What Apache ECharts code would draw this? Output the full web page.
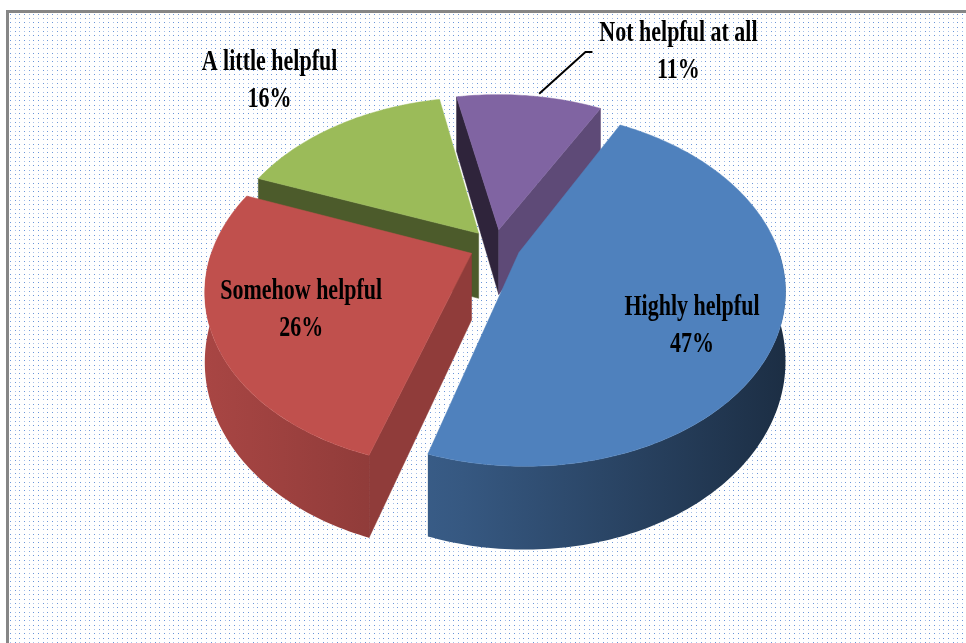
<!DOCTYPE html>
<html><head><meta charset="utf-8">
<script src="https://cdn.jsdelivr.net/npm/echarts@6/dist/echarts.min.js"></script>
<style>
html,body{margin:0;padding:0;background:#fff;overflow:hidden;}
#frame{position:absolute;left:6px;top:10px;width:960px;height:633px;border-left:3px solid #868686;border-top:3px solid #868686;box-sizing:border-box;}
#chart{position:absolute;left:0;top:0;width:966px;height:643px;}
</style></head><body>
<div id="frame"></div><div id="chart"></div>
<script>
// ---- data ----
const categories = ['Highly helpful', 'Somehow helpful', 'A little helpful', 'Not helpful at all'];
const percents = [47, 26, 16, 11];

// ---- styles / layout ----
const sliceColors = ['#4F81BD', '#C0504D', '#9BBB59', '#8064A2'];
const labelPlace = [
  { r: 0.66, dx: 5, dy: 27 },
  { r: 0.64, dx: -10, dy: 6 },
  { r: 1.0, dx: -69, dy: -44 },
  { r: 1.0, dx: 149, dy: -44, leader: true }
];
// projection: centre, radii, perspective factor, depth, explosion, first-slice angle
const CX = 495, CY = 246, RX = 258, R0 = 168, K = 0.2, D0 = 66, E = 0.1, START = 28.3;

// dotted background pattern
(function () {
  const c = document.createElement('canvas');
  c.width = 14; c.height = 13;
  const g = c.getContext('2d');
  const xs = [1, 6, 10], ys = [1, 5, 9];
  for (let a = 0; a < 3; a++) for (let b = 0; b < 3; b++) {
    g.fillStyle = (a + b) % 2 ? 'rgba(80,130,210,0.5)' : 'rgba(80,130,210,0.85)';
    g.fillRect(xs[a], ys[b], 1, 1);
  }
  const f = document.getElementById('frame');
  f.style.backgroundImage = 'url(' + c.toDataURL() + ')';
  f.style.backgroundRepeat = 'repeat';
})();

function shade(hex, k) {
  const n = parseInt(hex.slice(1), 16);
  const r = Math.round(((n >> 16) & 255) * k), g = Math.round(((n >> 8) & 255) * k), b = Math.round((n & 255) * k);
  return 'rgb(' + r + ',' + g + ',' + b + ')';
}
function proj(u, v, h) {
  const s = 1 / (1 - K * v);
  return [CX + RX * u * s, CY + (R0 * v + h * D0) * s];
}
const rad = d => d * Math.PI / 180;
const total = percents.reduce((a, b) => a + b, 0);

function sliceAngles(i) {
  let before = 0;
  for (let k = 0; k < i; k++) before += percents[k];
  const a1 = START + before / total * 360;
  const a2 = a1 + percents[i] / total * 360;
  return [a1, a2, (a1 + a2) / 2];
}
// painter order by depth of slice middle
const ranks = (function () {
  const idx = percents.map((_, i) => i);
  idx.sort((p, q) => -Math.cos(rad(sliceAngles(p)[2])) - -Math.cos(rad(sliceAngles(q)[2])));
  const r = []; idx.forEach((i, k) => { r[i] = k; }); return r;
})();

function renderItem(params, api) {
  const i = params.dataIndex;
  const val = api.value(0);
  const [a1, a2, mid] = sliceAngles(i);
  const ou = E * Math.sin(rad(mid)), ov = -E * Math.cos(rad(mid));
  const pt = (th, r, h) => proj(r * Math.sin(rad(th)) + ou, -r * Math.cos(rad(th)) + ov, h);
  const col = sliceColors[i];
  const base = ranks[i] * 10;
  const children = [];
  const apexT = pt(0, 0, 0), apexB = pt(0, 0, 1);

  // radial cut faces
  const cutFace = (th, normal) => {
    if (Math.cos(rad(normal)) >= 0) return;
    const b = Math.max(0.35, Math.min(0.78, 0.56 + 0.2 * Math.sin(rad(normal))));
    children.push({ type: 'polygon', z2: base + 1, shape: { points: [apexT, pt(th, 1, 0), pt(th, 1, 1), apexB] },
      style: { fill: shade(col, b), stroke: shade(col, b), lineWidth: 0.5 } });
  };
  cutFace(a1, a1 - 90);
  cutFace(a2, a2 + 90);

  // outer wall (front-facing part)
  [[90, 270], [450, 630]].forEach(([lo, hi]) => {
    const w1 = Math.max(a1, lo), w2 = Math.min(a2, hi);
    if (w2 <= w1) return;
    const top = [], bot = [];
    const n = Math.max(2, Math.ceil(w2 - w1));
    for (let k = 0; k <= n; k++) {
      const th = w1 + (w2 - w1) * k / n;
      top.push(pt(th, 1, 0)); bot.push(pt(th, 1, 1));
    }
    children.push({ type: 'polygon', z2: base + 2, shape: { points: top.concat(bot.reverse()) },
      style: { fill: { type: 'linear', x: 200, y: 0, x2: 785, y2: 0, global: true,
        colorStops: [{ offset: 0, color: shade(col, 0.88) }, { offset: 0.45, color: shade(col, 0.68) }, { offset: 1, color: shade(col, 0.36) }] } } });
  });

  // top face
  const topPts = [apexT];
  const n = Math.ceil(a2 - a1);
  for (let k = 0; k <= n; k++) topPts.push(pt(a1 + (a2 - a1) * k / n, 1, 0));
  children.push({ type: 'polygon', z2: base + 3, shape: { points: topPts }, style: { fill: col, stroke: col, lineWidth: 0.5 } });

  // label
  const lp = labelPlace[i];
  const anchor = pt(mid, lp.r, 0);
  const lx = anchor[0] + lp.dx, ly = anchor[1] + lp.dy;
  children.push({ type: 'text', z2: 100, x: lx, y: ly, scaleY: 1.35,
    style: { text: categories[i] + '\n' + val + '%', font: 'bold 22px "Liberation Serif", "Times New Roman", serif',
      fill: '#000', align: 'center', verticalAlign: 'middle', lineHeight: 27 } });
  if (lp.leader) {
    const s0 = pt(mid + 2, 0.98, 0);
    children.push({ type: 'polyline', z2: 99, shape: { points: [[s0[0] + 3, s0[1] - 5], [lx - 93, ly], [lx - 86, ly]] },
      style: { stroke: '#000', lineWidth: 2, fill: null } });
  }
  return { type: 'group', children: children };
}

const chart = echarts.init(document.getElementById('chart'), null, { renderer: 'canvas' });
chart.setOption({
  animation: false,
  backgroundColor: 'transparent',
  series: [{
    type: 'custom',
    coordinateSystem: 'none',
    renderItem: renderItem,
    data: percents.map((v, i) => ({ name: categories[i], value: v }))
  }]
});
</script>
</body></html>
